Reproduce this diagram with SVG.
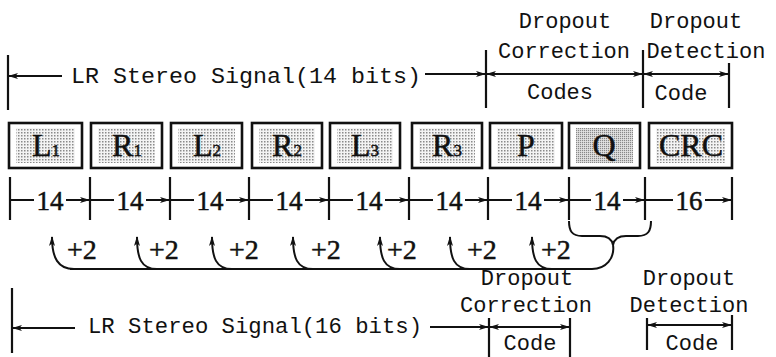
<svg xmlns="http://www.w3.org/2000/svg" width="776" height="357" viewBox="0 0 776 357">
<style>
.mono{font-family:"Liberation Mono","DejaVu Sans Mono",monospace;font-size:22px;fill:#111;text-anchor:middle}
.ser{font-family:"Liberation Serif","DejaVu Serif",serif;fill:#111;stroke:#111;stroke-width:0.5}
.lbl{font-size:32px;text-anchor:middle}
.num{font-size:27px;text-anchor:middle}
.pl{font-size:28px}
.ln{stroke:#111;stroke-width:2;fill:none}
.tk{stroke:#111;stroke-width:2.2;fill:none}
.a1{marker-end:url(#ah)}
.a2{marker-start:url(#ah);marker-end:url(#ah)}
.box{fill:#fff;stroke:#111;stroke-width:2.6}
</style>
<defs>
<marker id="ah" markerUnits="userSpaceOnUse" markerWidth="10" markerHeight="7" refX="9" refY="3.5" orient="auto-start-reverse" viewBox="0 0 10 7">
<path d="M0,0.5 L10,3.5 L0,6.5 L2.5,3.5 z" fill="#111"/>
</marker>
<pattern id="st" width="3" height="3" patternUnits="userSpaceOnUse">
<rect width="3" height="3" fill="#f4f4f4"/>
<rect width="1.5" height="1.5" fill="#8a8a8a"/>
</pattern>
<pattern id="stq" width="2" height="2" patternUnits="userSpaceOnUse">
<rect width="2" height="2" fill="#e6e6e6"/>
<rect width="1.2" height="1.2" fill="#888"/>
</pattern>
</defs>

<!-- top header texts -->
<g id="top-labels">
<text class="mono" x="246" y="83" textLength="350" lengthAdjust="spacingAndGlyphs">LR Stereo Signal(14 bits)</text>
<text class="mono" x="565" y="28">Dropout</text>
<text class="mono" x="564" y="58">Correction</text>
<text class="mono" x="696" y="28">Dropout</text>
<text class="mono" x="706" y="58">Detection</text>
<text class="mono" x="560" y="99">Codes</text>
<text class="mono" x="681" y="100">Code</text>
</g>

<!-- boxes -->
<g id="L1"><rect class="box" x="9" y="123" width="73" height="45"/><rect x="16" y="128" width="59" height="35" fill="url(#st)"/><text class="ser lbl" x="46" y="156">L<tspan font-size="17">1</tspan></text></g>
<g id="R1"><rect class="box" x="91" y="123" width="71" height="45"/><rect x="98" y="128" width="57" height="35" fill="url(#st)"/><text class="ser lbl" x="127" y="156">R<tspan font-size="17">1</tspan></text></g>
<g id="L2"><rect class="box" x="171" y="123" width="71" height="45"/><rect x="178" y="128" width="57" height="35" fill="url(#st)"/><text class="ser lbl" x="207" y="156">L<tspan font-size="17">2</tspan></text></g>
<g id="R2"><rect class="box" x="252" y="123" width="70" height="45"/><rect x="259" y="128" width="56" height="35" fill="url(#st)"/><text class="ser lbl" x="287" y="156">R<tspan font-size="17">2</tspan></text></g>
<g id="L3"><rect class="box" x="330" y="123" width="70" height="45"/><rect x="337" y="128" width="56" height="35" fill="url(#st)"/><text class="ser lbl" x="365" y="156">L<tspan font-size="17">3</tspan></text></g>
<g id="R3"><rect class="box" x="412" y="123" width="70" height="45"/><rect x="419" y="128" width="56" height="35" fill="url(#st)"/><text class="ser lbl" x="447" y="156">R<tspan font-size="17">3</tspan></text></g>
<g id="P"><rect class="box" x="490" y="123" width="72" height="45"/><rect x="497" y="128" width="58" height="35" fill="url(#st)"/><text class="ser lbl" x="526" y="156">P</text></g>
<g id="Q"><rect class="box" x="569" y="123" width="71" height="45"/><rect x="576" y="128" width="57" height="35" fill="url(#stq)"/><text class="ser lbl" x="604" y="156">Q</text></g>
<g id="CRC"><rect class="box" x="649" y="123" width="83" height="45"/><rect x="656" y="128" width="69" height="35" fill="url(#st)"/><text class="ser lbl" x="691" y="156">CRC</text></g>

<!-- bit-width labels -->
<g id="widths">
<text class="ser num" x="50" y="210">14</text>
<text class="ser num" x="130" y="210">14</text>
<text class="ser num" x="210" y="210">14</text>
<text class="ser num" x="289" y="210">14</text>
<text class="ser num" x="369" y="210">14</text>
<text class="ser num" x="449" y="210">14</text>
<text class="ser num" x="528" y="210">14</text>
<text class="ser num" x="607" y="210">14</text>
<text class="ser num" x="689" y="210">16</text>
</g>

<!-- +2 labels -->
<g id="plus">
<text class="ser pl" x="67" y="259">+2</text>
<text class="ser pl" x="149" y="259">+2</text>
<text class="ser pl" x="229" y="259">+2</text>
<text class="ser pl" x="311" y="259">+2</text>
<text class="ser pl" x="387" y="259">+2</text>
<text class="ser pl" x="467" y="259">+2</text>
<text class="ser pl" x="541" y="259">+2</text>
</g>

<!-- bottom texts -->
<g id="bottom-labels">
<text class="mono" x="255" y="333" textLength="334" lengthAdjust="spacingAndGlyphs">LR Stereo Signal(16 bits)</text>
<text class="mono" x="527" y="285">Dropout</text>
<text class="mono" x="526" y="312">Correction</text>
<text class="mono" x="530" y="350">Code</text>
<text class="mono" x="689" y="285">Dropout</text>
<text class="mono" x="689" y="312">Detection</text>
<text class="mono" x="692" y="350">Code</text>
</g>

<g id="connectors">
<!-- top ticks and arrows -->
<path class="tk" d="M8,55 V110 M486,50 V108 M643,50 V108 M729,63 V108"/>
<path class="ln a1" d="M62,76 H9"/>
<path class="ln a1" d="M425,74 H485"/>
<path class="ln a2" d="M487,74 H642"/>
<path class="ln a2" d="M644,74 H728"/>

<!-- width row ticks -->
<path class="tk" d="M10,177 V220 M90,177 V220 M170,177 V220 M249,177 V220 M329,177 V220 M409,177 V220 M488,177 V220 M569,177 V220 M645,177 V220 M732,177 V220"/>
<path class="ln a1" d="M34,200 H11 M66,200 H89"/>
<path class="ln a1" d="M114,200 H91 M146,200 H169"/>
<path class="ln a1" d="M194,200 H171 M226,200 H248"/>
<path class="ln a1" d="M273,200 H250 M305,200 H328"/>
<path class="ln a1" d="M353,200 H330 M385,200 H408"/>
<path class="ln a1" d="M433,200 H410 M465,200 H487"/>
<path class="ln a1" d="M512,200 H489 M544,200 H568"/>
<path class="ln a1" d="M591,200 H570 M623,200 H644"/>
<path class="ln a1" d="M673,200 H646 M705,200 H731"/>

<!-- brace under Q -->
<path class="ln" d="M569,221 C569,231 572,236 582,236 L600,236 C608,236 612,240 613,245 C614,240 618,236 626,236 L638,236 C648,236 651,231 651,221"/>

<!-- +2 feedback line -->
<path class="ln" d="M70,269 H592 C606,269 615,258 613,245"/>
<path class="ln a1" d="M74,269 C58,269 52,258 52,237"/>
<path class="ln a1" d="M157,269 C141,269 137,258 137,237"/>
<path class="ln a1" d="M232,269 C216,269 212,258 212,237"/>
<path class="ln a1" d="M313,269 C297,269 293,258 293,237"/>
<path class="ln a1" d="M400,269 C384,269 380,258 380,237"/>
<path class="ln a1" d="M470,269 C454,269 450,258 450,237"/>
<path class="ln a1" d="M552,269 C536,269 532,258 532,237"/>

<!-- bottom ticks and arrows -->
<path class="tk" d="M12,288 V353 M489,318 V357 M570,318 V357 M647,318 V350 M732,315 V350"/>
<path class="ln a1" d="M75,328 H13"/>
<path class="ln a1" d="M430,327 H488"/>
<path class="ln a2" d="M490,327 H569"/>
<path class="ln a2" d="M648,325 H731"/>
</g>
</svg>
